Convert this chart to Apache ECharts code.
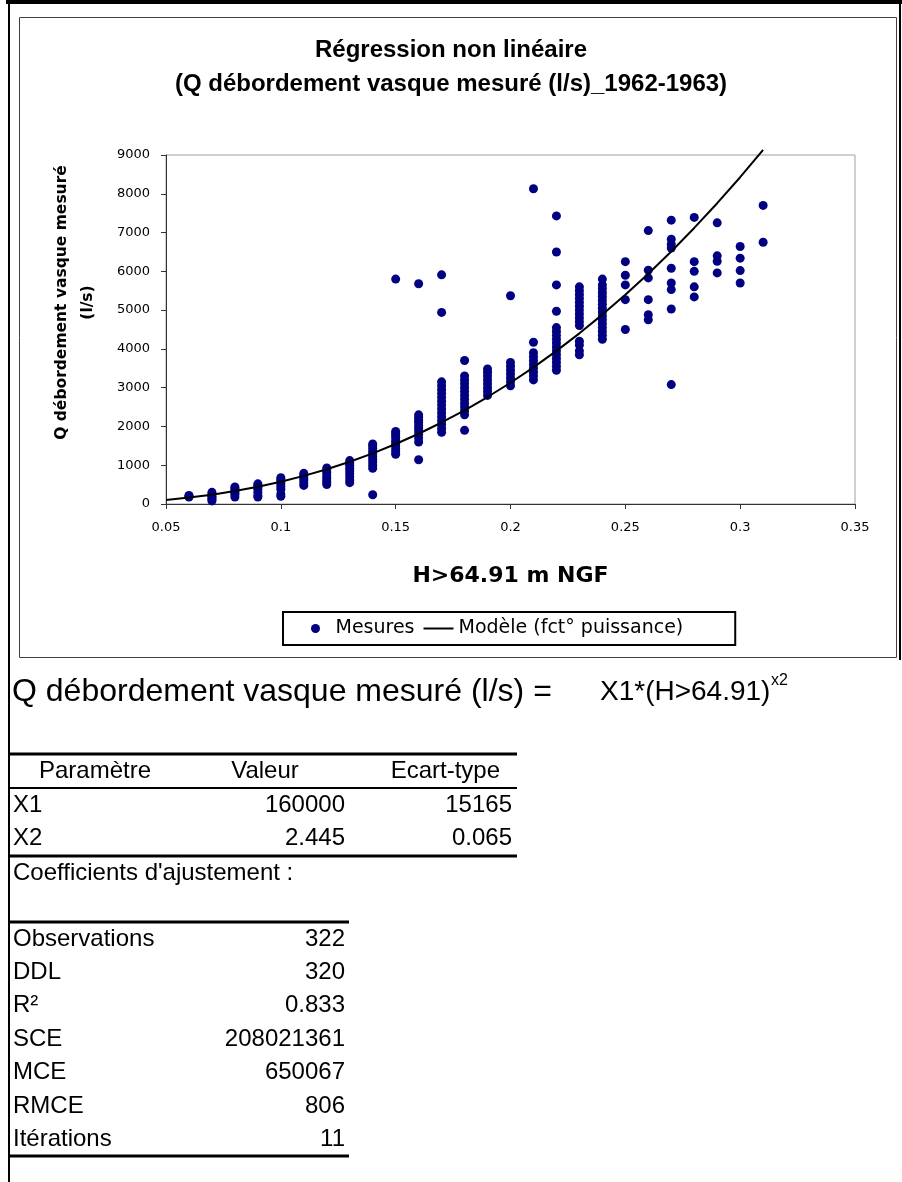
<!DOCTYPE html>
<html>
<head>
<meta charset="utf-8">
<title>Régression non linéaire</title>
<script src="https://cdn.jsdelivr.net/npm/echarts@6/dist/echarts.min.js"></script>
<style>
  html, body { margin: 0; padding: 0; background: #fff; }
  #main { width: 902px; height: 1182px; }
</style>
</head>
<body>
<div id="main"></div>
<script>
// hauteurs mesurees (H>64.91 m NGF), une colonne par valeur
var hLevels = [0.06, 0.07, 0.08, 0.09, 0.10, 0.11, 0.12, 0.13, 0.14, 0.15, 0.16, 0.17, 0.18,
               0.19, 0.20, 0.21, 0.22, 0.23, 0.24, 0.25, 0.26, 0.27, 0.28, 0.29, 0.30, 0.31];
// debits mesures (l/s) pour chaque hauteur
var qMeasured = [
    [180, 200, 220],
    [80, 120, 160, 200, 250, 300],
    [180, 250, 300, 350, 400, 440],
    [180, 220, 300, 380, 430, 480, 520],
    [200, 260, 380, 450, 520, 580, 630, 680],
    [480, 550, 620, 680, 740, 790],
    [500, 560, 620, 680, 750, 820, 880, 930],
    [550, 620, 700, 780, 850, 920, 1000, 1060, 1120],
    [240, 920, 1000, 1080, 1150, 1220, 1290, 1360, 1430, 1500, 1550],
    [1280, 1350, 1420, 1500, 1560, 1620, 1700, 1760, 1820, 1870, 5800],
    [1140, 1600, 1700, 1800, 1880, 1950, 2020, 2100, 2160, 2230, 2300, 5680],
    [1850, 1950, 2050, 2150, 2250, 2350, 2450, 2550, 2650, 2750, 2850, 2950, 3050, 3150, 4940, 5910],
    [1900, 2300, 2400, 2500, 2600, 2700, 2800, 2900, 3000, 3100, 3200, 3300, 3700],
    [2800, 2900, 3000, 3100, 3200, 3300, 3400, 3480],
    [3050, 3150, 3250, 3350, 3450, 3550, 3650, 5370],
    [3200, 3300, 3400, 3500, 3600, 3700, 3800, 3900, 4170, 8130],
    [3450, 3550, 3650, 3750, 3850, 3950, 4050, 4150, 4250, 4350, 4450, 4550, 4970, 5650, 6500, 7430],
    [3850, 3950, 4100, 4200, 4600, 4700, 4800, 4900, 5000, 5100, 5200, 5300, 5400, 5500, 5600],
    [4250, 4350, 4450, 4550, 4650, 4750, 4850, 4950, 5050, 5150, 5250, 5350, 5450, 5550, 5650, 5800],
    [4500, 5270, 5650, 5900, 6250],
    [4750, 4880, 5270, 5830, 6030, 7050],
    [3080, 5030, 5530, 5700, 6080, 6600, 6700, 6830, 7320],
    [5340, 5600, 6000, 6250, 7390],
    [5960, 6260, 6400, 7250],
    [5700, 6020, 6340, 6640],
    [6750, 7700]
];
// courbe du modele (fct puissance)
var modelH = [0.05, 0.06, 0.07, 0.08, 0.09, 0.10, 0.11, 0.12, 0.13, 0.14, 0.15, 0.16, 0.17, 0.18,
              0.19, 0.20, 0.21, 0.22, 0.23, 0.24, 0.25, 0.26, 0.27, 0.28, 0.29, 0.30, 0.31];
var modelQ = [106, 165, 240, 333, 444, 574, 725, 897, 1091, 1307, 1548, 1812, 2102, 2417,
              2759, 3127, 3523, 3948, 4401, 4884, 5396, 5939, 6513, 7119, 7757, 8427, 9130];
var xTicks = [0.05, 0.35, 0.05];   // min, max, pas
var yTicks = [0, 9000, 1000];

// tableaux de resultats
var paramHeader = ['Paramètre', 'Valeur', 'Ecart-type'];
var paramRows = [['X1', '160000', '15165'], ['X2', '2.445', '0.065']];
var statLabels = ['Observations', 'DDL', 'R²', 'SCE', 'MCE', 'RMCE', 'Itérations'];
var statValues = ['322', '320', '0.833', '208021361', '650067', '806', '11'];

var scatterData = [];
hLevels.forEach(function (h, i) {
    qMeasured[i].forEach(function (q) { scatterData.push([h, q]); });
});
var modelData = modelH.map(function (h, i) { return [h, modelQ[i]]; });

var FONT = '"Liberation Sans", Arial, sans-serif';
var WIDE = '"DejaVu Sans", Verdana, sans-serif';
var tf = '24px ' + FONT;
var ROW = 33.4;

function txt(x, y, s, align, font) {
    return {
        type: 'text', x: x, y: y, silent: true,
        style: { text: s, font: font || tf, fill: '#000', textAlign: align || 'left', textVerticalAlign: 'middle' }
    };
}
function hline(x1, x2, y, w) {
    return {
        type: 'line', silent: true,
        shape: { x1: x1, y1: y, x2: x2, y2: y },
        style: { stroke: '#000', lineWidth: w }
    };
}

var graphics = [
    // cadre
    hline(6, 902, 2, 4),
    { type: 'line', silent: true, shape: { x1: 9, y1: 0, x2: 9, y2: 1182 }, style: { stroke: '#000', lineWidth: 2 } },
    { type: 'line', silent: true, shape: { x1: 900, y1: 0, x2: 900, y2: 660 }, style: { stroke: '#000', lineWidth: 2 } },
    { type: 'rect', silent: true, shape: { x: 19.5, y: 17.5, width: 877, height: 640 }, style: { fill: null, stroke: '#404040', lineWidth: 1 } },
    // equation
    txt(12, 692, 'Q débordement vasque mesuré (l/s) =', 'left', '32px ' + FONT),
    txt(600, 692, 'X1*(H>64.91)', 'left', '28px ' + FONT),
    txt(771, 681, 'x2', 'left', '16px ' + FONT),
    // tableau des parametres
    hline(10, 517, 754, 3),
    txt(95, 771, paramHeader[0], 'center'),
    txt(265, 771, paramHeader[1], 'center'),
    txt(500, 771, paramHeader[2], 'right'),
    hline(10, 517, 788, 2),
    hline(10, 517, 856, 3),
    txt(13, 873, 'Coefficients d\'ajustement :'),
    hline(10, 349, 922, 3)
];
paramRows.forEach(function (r, i) {
    var y = 805 + i * ROW;
    graphics.push(txt(13, y, r[0]), txt(345, y, r[1], 'right'), txt(512, y, r[2], 'right'));
});
statLabels.forEach(function (l, i) {
    var y = 939 + i * ROW;
    graphics.push(txt(13, y, l), txt(345, y, statValues[i], 'right'));
});
graphics.push(hline(10, 349, 1156, 3));

var myChart = echarts.init(document.getElementById('main'), null, { renderer: 'canvas' });

var option = {
    backgroundColor: '#fff',
    animation: false,
    textStyle: { fontFamily: FONT },
    title: {
        text: 'Régression non linéaire\n(Q débordement vasque mesuré (l/s)_1962-1963)',
        left: 'center',
        top: 28,
        textStyle: { fontSize: 24, fontWeight: 'bold', color: '#000', lineHeight: 34, fontFamily: FONT }
    },
    legend: {
        left: 283,
        top: 612,
        padding: [7, 52, 7, 28],
        borderColor: '#000',
        borderWidth: 2,
        itemWidth: 30,
        itemHeight: 9,
        itemGap: 8,
        textStyle: { fontSize: 19, color: '#000', fontFamily: WIDE },
        data: [
            { name: 'Mesures' },
            { name: 'Modèle (fct° puissance)', itemStyle: { opacity: 0 } }
        ]
    },
    grid: {
        left: 166,
        right: 47,
        top: 155,
        bottom: 678,
        show: true,
        borderColor: '#a0a0a0',
        borderWidth: 1
    },
    xAxis: {
        type: 'value',
        min: xTicks[0],
        max: xTicks[1],
        interval: xTicks[2],
        name: 'H>64.91 m NGF',
        nameLocation: 'middle',
        nameGap: 61,
        nameTextStyle: { fontSize: 22, fontWeight: 'bold', color: '#000', fontFamily: WIDE },
        axisLine: { onZero: false, lineStyle: { color: '#333', width: 1 } },
        axisTick: { show: true, length: 5, lineStyle: { color: '#333' } },
        axisLabel: {
            margin: 17, fontSize: 13, color: '#000', fontFamily: WIDE,
            formatter: function (v) { return String(+v.toFixed(2)); }
        },
        splitLine: { show: false }
    },
    yAxis: {
        type: 'value',
        min: yTicks[0],
        max: yTicks[1],
        interval: yTicks[2],
        name: 'Q débordement vasque mesuré\n(l/s)',
        nameLocation: 'middle',
        nameGap: 65,
        nameTextStyle: {
            fontSize: 15.5, fontWeight: 'bold', color: '#000', lineHeight: 26, fontFamily: WIDE,
            padding: [0, 0, 0, 54]
        },
        axisLine: { show: true, lineStyle: { color: '#333', width: 1 } },
        axisTick: { show: true, length: 5, lineStyle: { color: '#333' } },
        axisLabel: {
            margin: 16, fontSize: 13, color: '#000', fontFamily: WIDE,
            formatter: function (v) { return String(v); }
        },
        splitLine: { show: false }
    },
    series: [
        {
            name: 'Mesures',
            type: 'scatter',
            symbol: 'circle',
            symbolSize: 9,
            itemStyle: { color: '#000080', opacity: 1 },
            data: scatterData,
            z: 3
        },
        {
            name: 'Modèle (fct° puissance)',
            type: 'line',
            symbol: 'none',
            clip: false,
            lineStyle: { color: '#000', width: 2 },
            itemStyle: { color: '#000' },
            data: modelData,
            z: 4
        }
    ],
    graphic: graphics
};

myChart.setOption(option);
</script>
</body>
</html>
